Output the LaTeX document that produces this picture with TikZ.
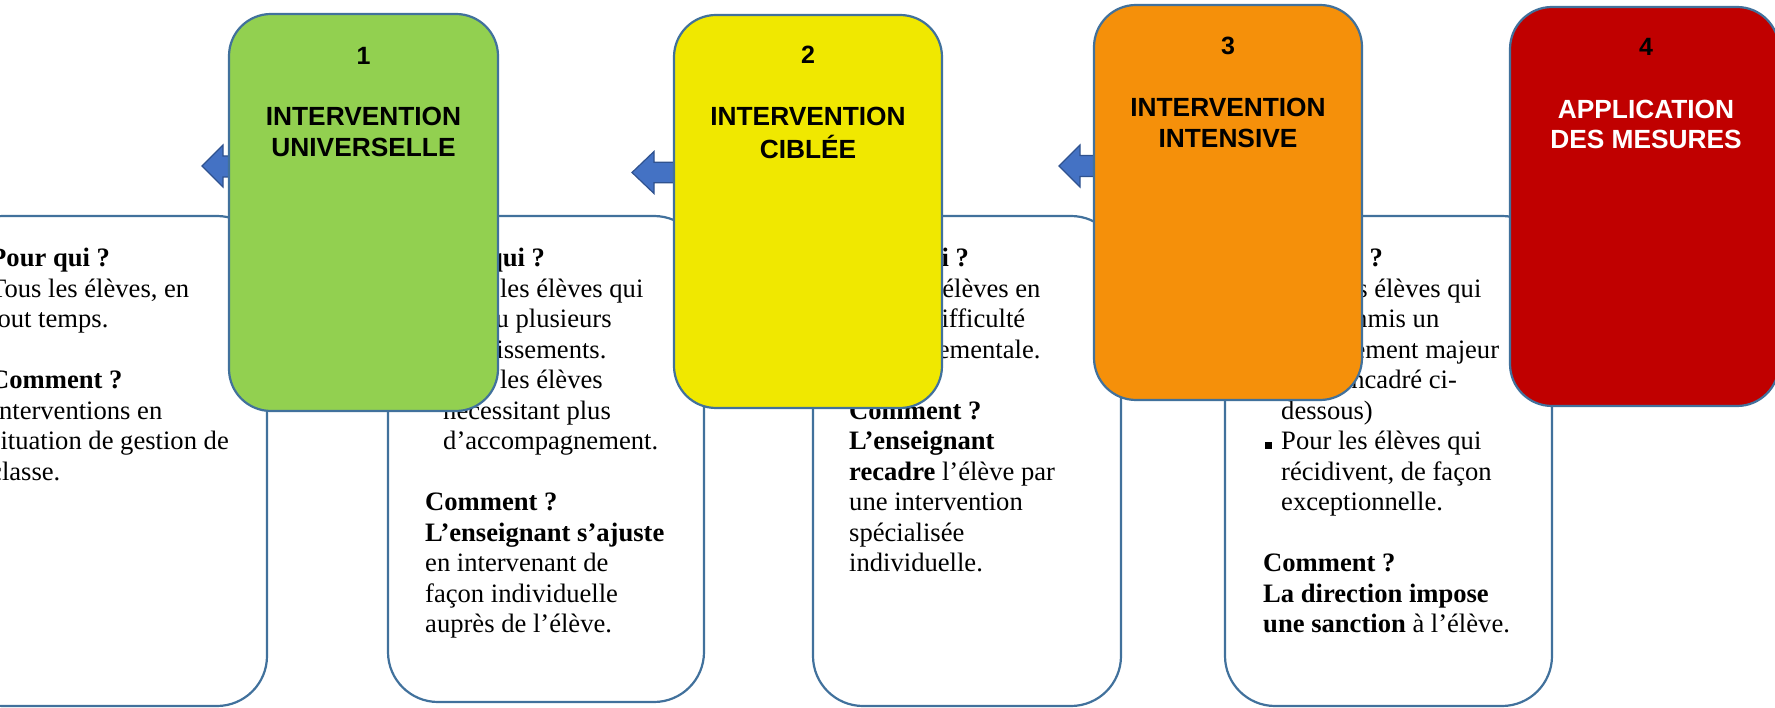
\documentclass[tikz,border=0pt]{standalone}
\usepackage{fontspec}
\setmainfont{Liberation Serif}
\newfontfamily\arialfont{Liberation Sans}
\definecolor{edgeblue}{HTML}{41719C}
\definecolor{arrowblue}{HTML}{4472C4}
\definecolor{arrowedge}{HTML}{2F528F}
\definecolor{cgreen}{HTML}{92D050}
\definecolor{cyellow}{HTML}{F0E800}
\definecolor{corange}{HTML}{F5900A}
\definecolor{cred}{HTML}{C00000}
\newcommand{\sqbul}{\makebox[18pt][l]{\hspace{2pt}\rule[1.3pt]{7pt}{7pt}}}
\newcommand{\indt}{\hspace*{18pt}}
\tikzset{
  wbox/.style={draw=edgeblue, line width=2.2pt, fill=white, rounded corners=50pt, inner sep=0pt},
  cbox/.style={draw=edgeblue, line width=2.2pt, rounded corners=42pt, inner sep=0pt},
  bodytxt/.style={anchor=base west, inner sep=0pt, font=\fontsize{26.6}{30.5}\selectfont},
  titletxt/.style={anchor=base, inner sep=0pt, font=\arialfont\bfseries\fontsize{26.3}{30.7}\selectfont},
  numtxt/.style={anchor=base, inner sep=0pt, font=\arialfont\bfseries\fontsize{25}{30}\selectfont},
  blockarrow/.style={fill=arrowblue, draw=arrowedge, line width=1.2pt, line join=miter},
}
\begin{document}
\begin{tikzpicture}[x=1pt,y=-1pt]
\useasboundingbox (0,0) rectangle (1775,708);
\fill[white] (0,0) rectangle (1775,708);

% white text boxes
\node[wbox, minimum width=314pt, minimum height=490pt] (w1) at (110,461) {};
\node[wbox, minimum width=316pt, minimum height=486pt] (w2) at (546,459) {};
\node[wbox, minimum width=308pt, minimum height=490pt] (w3) at (967,461) {};
\node[wbox, minimum width=327pt, minimum height=490pt] (w4) at (1388.5,461) {};

% texts
\node[bodytxt] (b1) at (-10,267) {\begin{tabular}[t]{@{}l@{}}
\textbf{Pour qui ?}\\
Tous les élèves, en\\
tout temps.\\
\\
\textbf{Comment ?}\\
Interventions en\\
situation de gestion de\\
classe.
\end{tabular}};

\node[bodytxt] (b2) at (425,267) {\begin{tabular}[t]{@{}l@{}}
\textbf{Pour qui ?}\\
\sqbul Pour les élèves qui\\
\indt ont eu plusieurs\\
\indt avertissements.\\
\sqbul Pour les élèves\\
\indt nécessitant plus\\
\indt d’accompagnement.\\
\\
\textbf{Comment ?}\\
\textbf{L’enseignant s’ajuste}\\
en intervenant de\\
façon individuelle\\
auprès de l’élève.
\end{tabular}};

\node[bodytxt] (b3) at (849,267) {\begin{tabular}[t]{@{}l@{}}
\textbf{Pour qui ?}\\
Pour les élèves en\\
grande difficulté\\
comportementale.\\
\\
\textbf{Comment ?}\\
\textbf{L’enseignant}\\
\textbf{recadre} l’élève par\\
une intervention\\
spécialisée\\
individuelle.
\end{tabular}};

\node[bodytxt] (b4) at (1263,267) {\begin{tabular}[t]{@{}l@{}}
\textbf{Pour qui ?}\\
\sqbul Pour les élèves qui\\
\indt ont commis un\\
\indt manquement majeur\\
\indt (voir encadré ci-\\
\indt dessous)\\
\sqbul Pour les élèves qui\\
\indt récidivent, de façon\\
\indt exceptionnelle.\\
\\
\textbf{Comment ?}\\
\textbf{La direction impose}\\
\textbf{une sanction} à l’élève.
\end{tabular}};

% block arrows
\draw[blockarrow] (202,166) -- (223,145) -- (223,156) -- (240,156) -- (240,177) -- (223,177) -- (223,187) -- cycle;
\draw[blockarrow] (632,172.5) -- (654,151.5) -- (654,162.3) -- (685,162.3) -- (685,182.7) -- (654,182.7) -- (654,193.5) -- cycle;
\draw[blockarrow] (1059,166) -- (1080,145) -- (1080,155.5) -- (1105,155.5) -- (1105,176.5) -- (1080,176.5) -- (1080,187) -- cycle;

% coloured boxes
\node[cbox, fill=cgreen, minimum width=269pt, minimum height=397pt] (c1) at (363.5,212.5) {};
\node[cbox, fill=cyellow, minimum width=268pt, minimum height=393pt] (c2) at (808,211.5) {};
\node[cbox, fill=corange, minimum width=268pt, minimum height=395pt] (c3) at (1228,202.5) {};
\node[cbox, fill=cred, minimum width=269pt, minimum height=399pt] (c4) at (1644.5,206.5) {};

\node[numtxt] (n1) at (363.5,64.3) {1};
\node[titletxt] (t1) at (363.5,126) {\begin{tabular}[t]{@{}c@{}}INTERVENTION\\UNIVERSELLE\end{tabular}};
\node[numtxt] (n2) at (808,64) {2};
\node[titletxt] (t2) at (808,126) {\begin{tabular}[t]{@{}c@{}}INTERVENTION\\CIBLÉE\end{tabular}};
\node[numtxt] (n3) at (1228,55) {3};
\node[titletxt] (t3) at (1228,116.7) {\begin{tabular}[t]{@{}c@{}}INTERVENTION\\INTENSIVE\end{tabular}};
\node[numtxt] (n4) at (1646,56) {4};
\node[titletxt, text=white] (t4) at (1646,118.3) {\begin{tabular}[t]{@{}c@{}}APPLICATION\\DES MESURES\end{tabular}};
\end{tikzpicture}
\end{document}
